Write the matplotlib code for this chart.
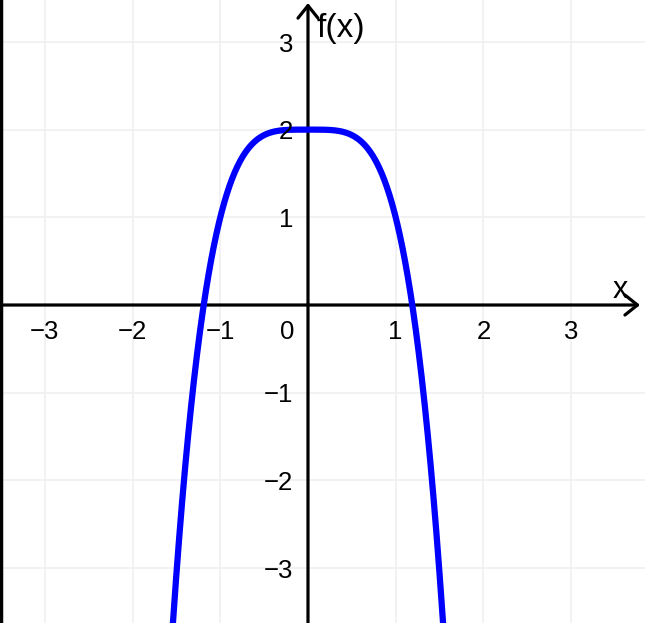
import numpy as np
import matplotlib
matplotlib.use("Agg")
import matplotlib.pyplot as plt
from matplotlib.lines import Line2D

# ── DATA ──────────────────────────────────────────────────────────────
# f(x) = -x^4 + 2  (polynomial coefficients, highest power first)
coeffs   = [-1, 0, 0, 0, 2]
x_ticks  = [-3, -2, -1, 1, 2, 3]
y_ticks  = [-3, -2, -1, 1, 2, 3]
x_labels = ['\u22123', '\u22122', '\u22121', '1', '2', '3']
y_labels = ['\u22123', '\u22122', '\u22121', '1', '2', '3']

# ── FIGURE ────────────────────────────────────────────────────────────
plt.rcParams['font.family'] = ['Liberation Sans', 'DejaVu Sans']

fig = plt.figure(figsize=(6.45, 6.23), dpi=100)
ax = fig.add_axes([0, 0, 1, 1])
ax.set_xlim(-3.512, 3.843)
ax.set_ylim(-3.626, 3.478)
ax.axis('off')

grid_color = '#f0f0f0'
for t in x_ticks:
    ax.axvline(t, color=grid_color, lw=1.2, zorder=0)
for t in y_ticks:
    ax.axhline(t, color=grid_color, lw=1.2, zorder=0)

# axes with open arrow heads
arrow_kw = dict(arrowstyle='->,head_length=0.5,head_width=0.4',
                color='black', lw=2.3, shrinkA=0, shrinkB=0,
                mutation_scale=18)
ax.annotate('', xy=(3.786, 0), xytext=(-3.6, 0), arrowprops=arrow_kw, zorder=2)
ax.annotate('', xy=(0, 3.443), xytext=(0, -3.7), arrowprops=arrow_kw, zorder=2)

# curve
xs = np.linspace(-1.7, 1.7, 800)
ax.plot(xs, np.polyval(coeffs, xs), color='#0000ff', lw=4.5,
        solid_capstyle='butt', zorder=3)

# tick labels
fs = 18.5
for t, lab in zip(x_ticks, x_labels):
    ax.text(t, -0.31, lab, ha='center', va='center', fontsize=fs)
ax.text(-0.24, -0.31, '0', ha='center', va='center', fontsize=fs)
for t, lab in zip(y_ticks, y_labels):
    ax.text(-0.17, t - 0.03, lab, ha='right', va='center', fontsize=fs)

# axis names
ax.text(3.557, 0.17, 'x', ha='center', va='center', fontsize=22)
ax.text(0.10, 3.15, 'f(x)', ha='left', va='center', fontsize=24)

# left frame edge
fig.add_artist(Line2D([0.002, 0.002], [0, 1], color='black', lw=2.5,
                      transform=fig.transFigure))

fig.savefig('out.png', dpi=100)
